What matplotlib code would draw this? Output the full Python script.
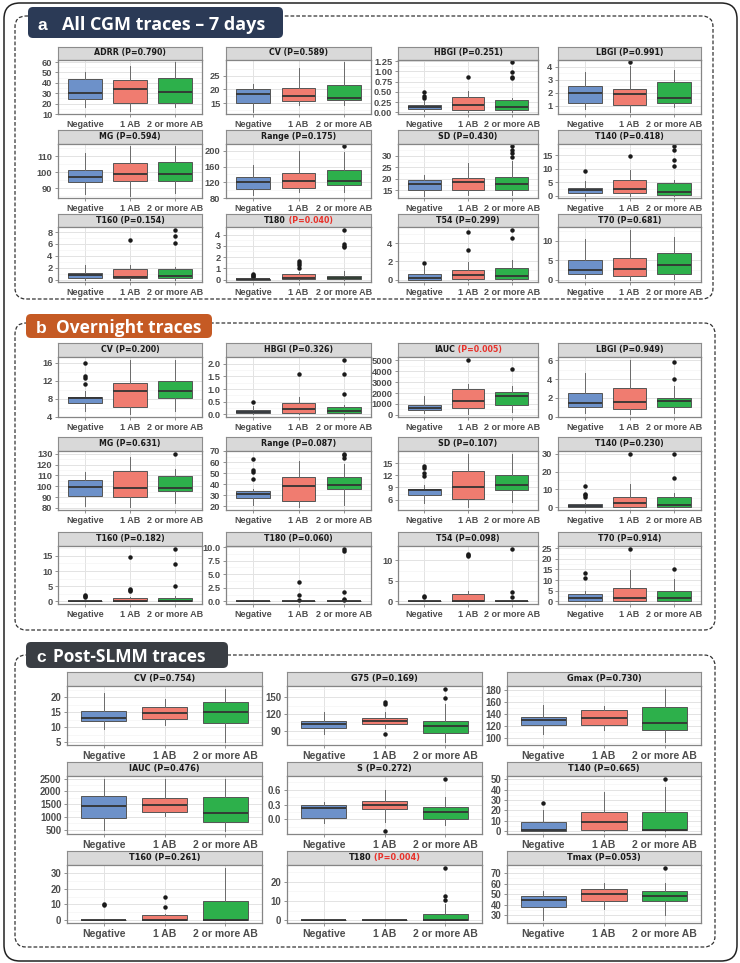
import matplotlib
matplotlib.use("Agg")
import matplotlib.pyplot as plt
import numpy as np
from matplotlib.patches import FancyBboxPatch

W, H = 740, 963
GROUPS = ["Negative", "1 AB", "2 or more AB"]
FILL = ["#6d91c9", "#f07c70", "#2db04b"]

# ---- a: all CGM traces, 7 days ----
A_NAMES = ["ADRR", "CV", "HBGI", "LBGI", "MG", "Range", "SD", "T140", "T160", "T180", "T54", "T70"]
A_PVALS = ["0.790", "0.589", "0.251", "0.991", "0.594", "0.175", "0.430", "0.418", "0.154", "0.040", "0.299", "0.681"]
A_TICKS = [["10", "20", "30", "40", "50", "60"], ["15", "20", "25"],
           ["0.00", "0.25", "0.50", "0.75", "1.00", "1.25"], ["1", "2", "3", "4"],
           ["90", "100", "110"], ["80", "120", "160", "200"], ["15", "20", "25", "30"],
           ["0", "5", "10", "15"], ["0", "2", "4", "6", "8"], ["0", "1", "2", "3", "4"],
           ["0", "2", "4"], ["0", "5", "10"]]
# whisker low, q1, median, q3, whisker high for Negative / 1 AB / 2 or more AB
A_BOXES = [
    [[16.5, 24.6, 30, 44, 50], [13, 20.4, 34.4, 42.5, 56.7], [17, 21, 31, 45, 59.7]],
    [[11.9, 15, 18.4, 20, 21.9], [14.4, 15.9, 17.7, 20.6, 27.8], [14.4, 16, 16.9, 21.6, 29.8]],
    [[0.03, 0.09, 0.14, 0.19, 0.28], [0.02, 0.05, 0.18, 0.37, 0.53], [0.02, 0.05, 0.12, 0.31, 0.36]],
    [[0.74, 1.18, 1.97, 2.5, 3.63], [0.53, 1.05, 1.92, 2.32, 4.1], [0.92, 1.18, 1.58, 2.82, 3.74]],
    [[86.3, 93.6, 96.8, 101.1, 112], [85.3, 94.7, 99, 105.7, 116], [86.8, 94.1, 98.7, 106.1, 116]],
    [[87, 102, 121.8, 133, 162.7], [96, 105, 123, 144, 200], [94, 113, 124, 151, 196]],
    [[12.8, 15.4, 18, 19.4, 21.7], [13.1, 15, 18.7, 20.5, 26.9], [13.1, 15.3, 17.7, 21, 27.6]],
    [[0, 0.9, 2.1, 2.9, 5.4], [0, 0.9, 2.5, 5.9, 9.4], [0, 0.25, 1.25, 4.6, 5.6]],
    [[0, 0.28, 0.73, 1.1, 2.4], [0, 0.28, 0.4, 1.8, 2.4], [0, 0.28, 0.56, 1.8, 2.1]],
    [[0, 0, 0.02, 0.06, 0.12], [0, 0.02, 0.1, 0.45, 0.7], [0, 0.02, 0.15, 0.33, 0.75]],
    [[0, 0, 0.19, 0.57, 1.5], [0, 0.08, 0.46, 1.07, 1.9], [0, 0.08, 0.38, 1.26, 2.1]],
    [[0.43, 1.4, 2.6, 5.0, 10.4], [0.1, 0.96, 2.9, 5.7, 12.9], [0.26, 1.56, 3.7, 6.8, 11]],
]
A_FLIERS = [
    [[], [], []], [[], [], []],
    [[0.34, 0.41, 0.49], [0.87], [0.84, 0.87, 0.98, 1.22]],
    [[], [4.35], []], [[], [], []], [[], [], [211]],
    [[], [], [29.4, 31.2, 32.3, 34]],
    [[9], [14.75], [11, 13.3, 16.9, 18.2]],
    [[], [6.65], [6.2, 7.3, 8.45]],
    [[0.18, 0.28, 0.38, 0.48], [1.05, 1.3, 1.5, 1.65], [2.85, 3.0, 3.15, 4.45]],
    [[1.8], [3.2, 5.2], [4.6, 5.5]],
    [[], [], []],
]

# ---- b: overnight traces ----
B_NAMES = ["CV", "HBGI", "IAUC", "LBGI", "MG", "Range", "SD", "T140", "T160", "T180", "T54", "T70"]
B_PVALS = ["0.200", "0.326", "0.005", "0.949", "0.631", "0.087", "0.107", "0.230", "0.182", "0.060", "0.098", "0.914"]
B_TICKS = [["4", "8", "12", "16"], ["0.0", "0.5", "1.0", "1.5", "2.0"],
           ["0", "1000", "2000", "3000", "4000", "5000"], ["0", "2", "4", "6"],
           ["80", "90", "100", "110", "120", "130"], ["20", "30", "40", "50", "60", "70"],
           ["6", "9", "12", "15"], ["0", "10", "20", "30"], ["0", "5", "10", "15"],
           ["0.0", "2.5", "5.0", "7.5", "10.0"], ["0", "5", "10"], ["0", "5", "10", "15", "20", "25"]]
B_BOXES = [
    [[5.4, 7.0, 8.2, 8.4, 9.8], [4.6, 6.3, 9.7, 11.6, 16.7], [5.4, 8.2, 9.7, 12, 16.7]],
    [[0, 0.04, 0.08, 0.17, 0.33], [0, 0.04, 0.21, 0.44, 0.7], [0, 0.04, 0.13, 0.3, 0.36]],
    [[215, 460, 675, 920, 1690], [60, 675, 1230, 2360, 2820], [307, 920, 1690, 2090, 2670]],
    [[0.42, 1.02, 1.48, 2.47, 4.66], [0.25, 0.78, 1.59, 3.07, 6.07], [0.42, 1.02, 1.66, 2.01, 3.32]],
    [[81.6, 91.4, 99.1, 105.9, 113], [80.6, 89.9, 98.1, 114, 127], [84.3, 96, 98.1, 109.3, 116]],
    [[20.6, 27.3, 30.9, 33.9, 35.5], [18.8, 24.8, 38.5, 46.7, 60.9], [20.6, 35.5, 39.1, 46.1, 58.2]],
    [[5.1, 7.1, 8.3, 8.6, 9.6], [4.1, 6.1, 9.2, 13.1, 17.3], [5.3, 8.3, 9.7, 12, 17.3]],
    [[0, 0, 0.75, 1.9, 2.2], [0, 0.4, 2.6, 6, 12.9], [0, 0, 1.3, 6, 7.9]],
    [[0, 0, 0, 0.1, 0.2], [0, 0, 0.2, 1.05, 1.3], [0, 0, 0.2, 1.05, 1.8]],
    [[0, 0, 0, 0, 0], [0, 0, 0, 0.05, 0.1], [0, 0, 0, 0.05, 0.1]],
    [[0, 0, 0, 0, 0], [0, 0, 0.1, 1.7, 2.5], [0, 0, 0, 0, 0]],
    [[0, 0, 1.4, 3.3, 4.85], [0, 0.1, 1.4, 6.06, 14.7], [0, 0, 1.5, 4.85, 10.45]],
]
B_FLIERS = [
    [[11.3, 12.6, 13.1, 16], [], []],
    [[0.5], [1.6], [0.79, 1.6, 2.16]],
    [[], [5050], [4230]],
    [[], [], [4.06, 5.8]],
    [[], [], [130]],
    [[44.5, 51, 53, 63], [], [64, 66, 67.5]],
    [[11.7, 12.5, 13.8, 14.2], [], []],
    [[5.6, 6.9, 7.5, 12], [30], [16.3, 30]],
    [[1.5, 1.9, 2.2], [3.4, 3.6, 4.1, 14.8], [5.0, 12.4, 17.4]],
    [[], [0.3, 1.1, 3.5], [0.3, 0.5, 1.8, 9.3, 9.7]],
    [[1.1, 1.3], [11.0, 11.3, 11.6], [1.1, 2.4, 12.9]],
    [[10.9, 13.5], [24.8], [15.45]],
]

# ---- c: post-SLMM traces ----
C_NAMES = ["CV", "G75", "Gmax", "IAUC", "S", "T140", "T160", "T180", "Tmax"]
C_PVALS = ["0.754", "0.169", "0.730", "0.476", "0.272", "0.665", "0.261", "0.004", "0.053"]
C_TICKS = [["5", "10", "15", "20"], ["90", "120", "150"], ["100", "120", "140", "160", "180"],
           ["500", "1000", "1500", "2000", "2500"], ["0.0", "0.3", "0.6"],
           ["0", "10", "20", "30", "40", "50"], ["0", "10", "20", "30"], ["0", "10", "20"],
           ["30", "40", "50", "60", "70"]]
C_BOXES = [
    [[9.4, 12, 13.1, 15.6, 21.5], [10.8, 12.7, 14.9, 16.7, 19.6], [5, 11.5, 15, 18.5, 22.9]],
    [[83.7, 94.4, 102.5, 108, 123.6], [94.4, 101.9, 108, 113, 124.4], [69.4, 87, 98.8, 106.9, 138]],
    [[106.5, 121, 129.4, 134.7, 155.3], [112.4, 121, 133, 146.5, 153.5], [92, 113.5, 125.3, 152.4, 183]],
    [[500, 960, 1440, 1827, 2500], [1040, 1200, 1467, 1760, 2480], [440, 800, 1160, 1800, 2500]],
    [[-0.07, 0.034, 0.22, 0.28, 0.36], [-0.05, 0.2, 0.29, 0.375, 0.6], [-0.12, 0, 0.156, 0.245, 0.46]],
    [[0, 0.6, 1.6, 8.9, 20.8], [0, 1, 8.9, 18.2, 37.4], [0, 1, 1, 18.2, 42.2]],
    [[0, 0, 0, 0.1, 0.2], [0, 0, 0.4, 3.2, 4.3], [0, 0, 0.4, 12.2, 33.2]],
    [[0, 0, 0, 0, 0], [0, 0, 0, 0, 0], [0, 0, 0.35, 3.5, 8.2]],
    [[25.2, 37.7, 44.2, 48, 53.5], [35.8, 43.9, 50.3, 55.2, 60.3], [30.3, 43.9, 48.7, 52.9, 60.3]],
]
C_FLIERS = [
    [[], [], []],
    [[], [83.7, 138, 141], [148.1, 165.6]],
    [[], [], []], [[], [], []],
    [[], [-0.24], [0.82]],
    [[27.2], [], [50.5]],
    [[9.6, 10.6], [8.6, 15], []],
    [[], [], [10.5, 12.6, 27.2]],
    [[], [], [75.2]],
]

# layout in pixels
A_COLS = [(58, 202), (226, 371), (398, 538), (558, 701)]
A_ROWS = [(46.5, 60, 114), (130, 144, 198), (214, 227, 282)]
B_ROWS = [(343, 357, 417), (437, 451, 510), (532, 546, 604)]
C_COLS = [(67, 262), (287, 482), (507, 701)]
C_ROWS = [(672, 686, 745), (762, 776, 834), (851, 865, 923)]

plt.rcParams['font.family'] = ['Liberation Sans', 'DejaVu Sans']
fig = plt.figure(figsize=(W / 100, H / 100), dpi=100)
renderer = fig.canvas.get_renderer()


def px_rect(x0, y0, x1, y1):
    return [x0 / W, 1 - y1 / H, (x1 - x0) / W, (y1 - y0) / H]


def strip(x0, y0, x1, y1, name, pval, fs):
    sax = fig.add_axes(px_rect(x0, y0, x1, y1))
    sax.set_xticks([])
    sax.set_yticks([])
    sax.set_facecolor("#d9d9d9")
    for s in sax.spines.values():
        s.set_color("#8c8c8c")
        s.set_linewidth(0.8)
    kw = dict(fontsize=fs, fontweight="bold", family="DejaVu Sans", va="center")
    if float(pval) < 0.05:
        t1 = sax.text(0.5, 0.52, name, ha="left", color="#1a1a1a", **kw)
        t2 = sax.text(0.5, 0.52, " (P=" + pval + ")", ha="left", color="#e8312a", **kw)
        w1 = t1.get_window_extent(renderer).width
        w2 = t2.get_window_extent(renderer).width
        sw = x1 - x0
        start = 0.5 - (w1 + w2) / 2 / sw
        t1.set_x(start)
        t2.set_x(start + w1 / sw)
    else:
        sax.text(0.5, 0.52, name + " (P=" + pval + ")", ha="center", color="#1a1a1a", **kw)


def panel(x0, y0, x1, y1, boxes, fliers, ticks, xfs, yfs):
    ax = fig.add_axes(px_rect(x0, y0, x1, y1))
    stats = []
    for k in range(3):
        lo, q1, med, q3, hi = boxes[k]
        stats.append(dict(whislo=lo, q1=q1, med=med, q3=q3, whishi=hi, fliers=fliers[k]))
    bp = ax.bxp(stats, positions=[1, 2, 3], widths=0.75, patch_artist=True, showcaps=False,
                boxprops=dict(edgecolor="#555555", linewidth=0.7),
                medianprops=dict(color="#333333", linewidth=1.3),
                whiskerprops=dict(color="#6a6a6a", linewidth=0.7),
                flierprops=dict(marker="o", markerfacecolor="#1a1a1a", markeredgecolor="#1a1a1a",
                                markersize=2.2, linestyle="none"))
    for patch, c in zip(bp["boxes"], FILL):
        patch.set_facecolor(c)
    vals = [v for b in boxes for v in (b[0], b[4])] + [v for f in fliers for v in f]
    lo, hi = min(vals), max(vals)
    pad = 0.05 * (hi - lo)
    ax.set_ylim(lo - pad, hi + pad)
    ax.set_xlim(0.4, 3.6)
    tv = [float(t) for t in ticks]
    ax.set_yticks(tv)
    ax.set_yticklabels(ticks)
    step = tv[1] - tv[0]
    minor = np.arange(tv[0] - step / 2, tv[-1] + step, step)
    minor = minor[(minor > lo - pad) & (minor < hi + pad)]
    ax.set_yticks(minor, minor=True)
    ax.set_xticks([1, 2, 3])
    ax.set_xticklabels(GROUPS)
    ax.set_axisbelow(True)
    ax.yaxis.grid(True, which="major", color="#e3e3e3", linewidth=0.7)
    ax.yaxis.grid(True, which="minor", color="#f1f1f1", linewidth=0.4)
    ax.xaxis.grid(True, which="major", color="#e3e3e3", linewidth=0.7)
    ax.tick_params(which="major", direction="out", length=2.5, width=0.6, color="#7f7f7f", pad=1.5)
    ax.tick_params(which="minor", length=0)
    for lab in ax.get_yticklabels():
        lab.set_fontsize(yfs)
        lab.set_fontweight("bold")
        lab.set_color("#4d4d4d")
    for lab in ax.get_xticklabels():
        lab.set_fontsize(xfs)
        lab.set_fontweight("bold")
        lab.set_color("#4d4d4d")
    for s in ax.spines.values():
        s.set_color("#858585")
        s.set_linewidth(0.9)
    return ax


# background frames
bg = fig.add_axes([0, 0, 1, 1])
bg.set_xlim(0, W)
bg.set_ylim(H, 0)
bg.axis("off")
bg.add_patch(FancyBboxPatch((4, 3), 733, 958, boxstyle="round,pad=0,rounding_size=16",
                            fc="white", ec="#222222", lw=1.1))
dash = dict(boxstyle="round,pad=0,rounding_size=11", fc="none", ec="#333333", lw=0.9,
            linestyle=(0, (3, 1.6)))
bg.add_patch(FancyBboxPatch((15, 16), 698, 283, **dash))
bg.add_patch(FancyBboxPatch((15, 323), 700, 307, **dash))
bg.add_patch(FancyBboxPatch((15, 655), 700, 292, **dash))

headers = [((28, 7, 255, 31), "#2b3a56", "a", "All CGM traces \u2013 7 days", 30.5, 37, 62, 13),
           ((26, 314, 186, 24), "#c55a24", "b", "Overnight traces", 333, 36, 56, 12.5),
           ((26, 642, 202, 26), "#3a3e44", "c", "Post-SLMM traces", 662.5, 36, 53, 12.5)]
for (hx, hy, hw, hh), col, letter, label, base, lx, tx, hfs in headers:
    bg.add_patch(FancyBboxPatch((hx, hy), hw, hh, boxstyle="round,pad=0,rounding_size=5",
                                fc=col, ec="none"))
    bg.text(lx, base, letter, color="white", fontsize=12.5, fontweight="bold",
            family="Liberation Sans", va="baseline", ha="left")
    bg.text(tx, base, label, color="white", fontsize=hfs, fontweight="bold",
            family="Open Sans", va="baseline", ha="left")

for sec_names, sec_p, sec_t, sec_b, sec_f, cols, rows, xfs, yfs, sfs in [
        (A_NAMES, A_PVALS, A_TICKS, A_BOXES, A_FLIERS, A_COLS, A_ROWS, 6.5, 6.7, 5.7),
        (B_NAMES, B_PVALS, B_TICKS, B_BOXES, B_FLIERS, A_COLS, B_ROWS, 6.5, 6.7, 5.7),
        (C_NAMES, C_PVALS, C_TICKS, C_BOXES, C_FLIERS, C_COLS, C_ROWS, 7.5, 6.9, 5.9)]:
    nc = len(cols)
    for i, name in enumerate(sec_names):
        x0, x1 = cols[i % nc]
        st, pt, pb = rows[i // nc]
        strip(x0, st, x1, pt, name, sec_p[i], sfs)
        panel(x0, pt, x1, pb, sec_b[i], sec_f[i], sec_t[i], xfs, yfs)

fig.savefig("out.png", dpi=100)
